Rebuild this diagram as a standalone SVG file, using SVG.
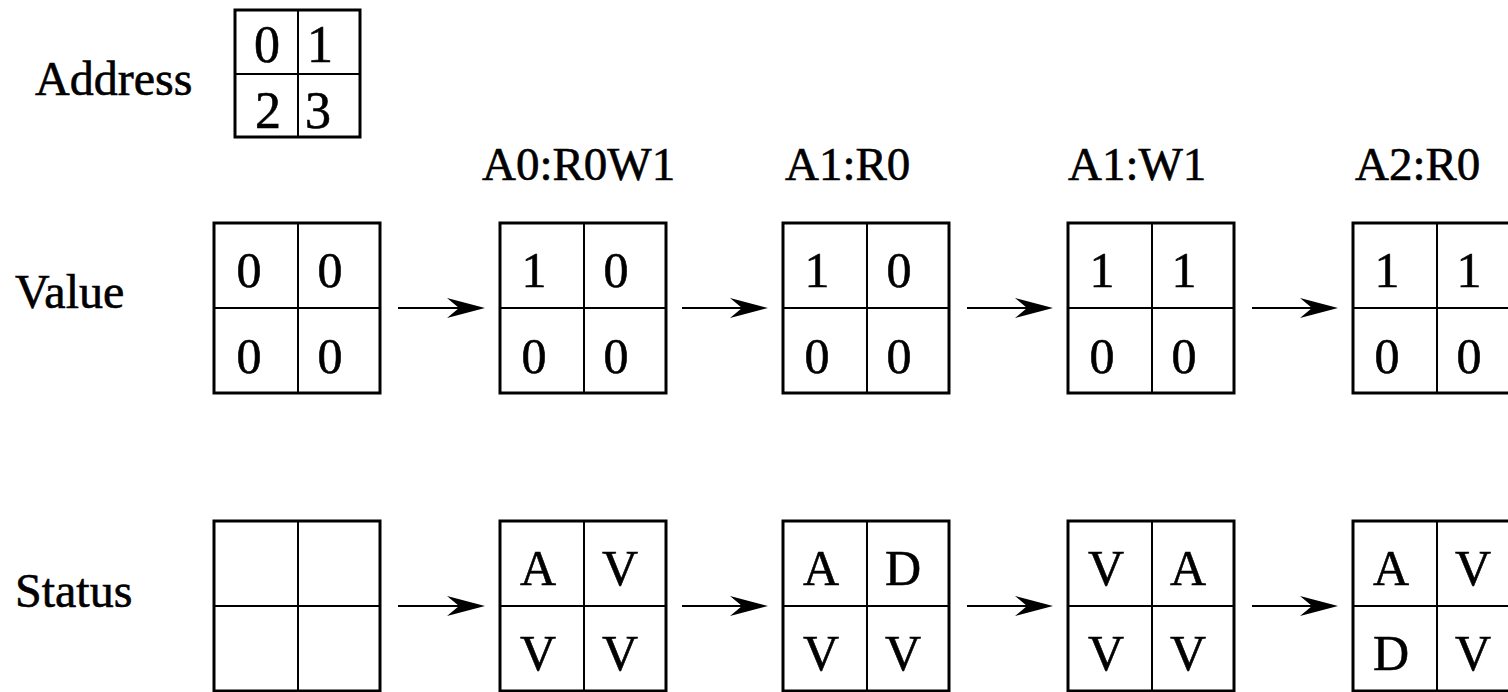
<svg xmlns="http://www.w3.org/2000/svg" xmlns:xlink="http://www.w3.org/1999/xlink" width="1508" height="692" viewBox="0 0 1508 692">
  <style>
    text { font-family: "Liberation Serif", "Times New Roman", serif; fill: #000; stroke: #000; stroke-width: 0.6; }
    .lbl { font-size: 48px; }
    .step { font-size: 47px; }
    .cell { font-size: 50px; text-anchor: middle; }
    .addr { font-size: 52px; text-anchor: middle; }
    .frame { fill: #fff; stroke: #000; stroke-width: 3; }
    .div { stroke: #000; stroke-width: 2; }
    .conn { stroke: #000; stroke-width: 2; fill: none; marker-end: url(#barb); }
  </style>
  <defs>
    <marker id="barb" viewBox="0 0 38 20" refX="33" refY="10" markerWidth="38" markerHeight="20" markerUnits="userSpaceOnUse" orient="auto">
      <path d="M38,10 L0,0 L12,10 L0,20 Z" fill="#000"/>
    </marker>
    <!-- 2x2 memory block, 166 x 170 -->
    <g id="grid">
      <rect class="frame" x="0" y="0" width="166" height="170"/>
      <line class="div" x1="84" y1="0" x2="84" y2="170"/>
      <line class="div" x1="0" y1="85" x2="166" y2="85"/>
    </g>
  </defs>

  <!-- address legend -->
  <g id="address">
    <text class="lbl" x="35" y="95">Address</text>
    <rect class="frame" x="235" y="10" width="125" height="127"/>
    <line class="div" stroke-width="3" x1="298" y1="10" x2="298" y2="137"/>
    <line class="div" stroke-width="3" x1="235" y1="74" x2="360" y2="74"/>
    <text class="addr" x="267" y="62">0</text>
    <text class="addr" x="320" y="62">1</text>
    <text class="addr" x="268" y="128">2</text>
    <text class="addr" x="318" y="128">3</text>
  </g>

  <!-- row labels -->
  <g id="row-labels">
    <text class="lbl" x="15" y="308">Value</text>
    <text class="lbl" x="15" y="607">Status</text>
  </g>

  <!-- access labels -->
  <g id="step-labels">
    <text class="step" x="482" y="180">A0:R0W1</text>
    <text class="step" x="785" y="180">A1:R0</text>
    <text class="step" x="1068" y="180">A1:W1</text>
    <text class="step" x="1355" y="180">A2:R0</text>
  </g>

  <!-- value blocks -->
  <g id="value-0" transform="translate(214,223)">
    <use xlink:href="#grid"/>
    <text class="cell" x="35" y="64">0</text><text class="cell" x="116" y="64">0</text>
    <text class="cell" x="35" y="150">0</text><text class="cell" x="116" y="150">0</text>
  </g>
  <g id="value-1" transform="translate(500,223)">
    <use xlink:href="#grid"/>
    <text class="cell" x="34" y="64">1</text><text class="cell" x="116" y="64">0</text>
    <text class="cell" x="34" y="150">0</text><text class="cell" x="116" y="150">0</text>
  </g>
  <g id="value-2" transform="translate(783,223)">
    <use xlink:href="#grid"/>
    <text class="cell" x="34" y="64">1</text><text class="cell" x="116" y="64">0</text>
    <text class="cell" x="34" y="150">0</text><text class="cell" x="116" y="150">0</text>
  </g>
  <g id="value-3" transform="translate(1068,223)">
    <use xlink:href="#grid"/>
    <text class="cell" x="34" y="64">1</text><text class="cell" x="116" y="64">1</text>
    <text class="cell" x="34" y="150">0</text><text class="cell" x="116" y="150">0</text>
  </g>
  <g id="value-4" transform="translate(1353,223)">
    <use xlink:href="#grid"/>
    <text class="cell" x="34" y="64">1</text><text class="cell" x="116" y="64">1</text>
    <text class="cell" x="34" y="150">0</text><text class="cell" x="116" y="150">0</text>
  </g>

  <!-- status blocks -->
  <g id="status-0" transform="translate(214,521)">
    <use xlink:href="#grid"/>
  </g>
  <g id="status-1" transform="translate(500,521)">
    <use xlink:href="#grid"/>
    <text class="cell" x="38" y="64">A</text><text class="cell" x="120" y="64">V</text>
    <text class="cell" x="38" y="149">V</text><text class="cell" x="120" y="149">V</text>
  </g>
  <g id="status-2" transform="translate(783,521)">
    <use xlink:href="#grid"/>
    <text class="cell" x="38" y="64">A</text><text class="cell" x="120" y="64">D</text>
    <text class="cell" x="38" y="149">V</text><text class="cell" x="120" y="149">V</text>
  </g>
  <g id="status-3" transform="translate(1068,521)">
    <use xlink:href="#grid"/>
    <text class="cell" x="38" y="64">V</text><text class="cell" x="120" y="64">A</text>
    <text class="cell" x="38" y="149">V</text><text class="cell" x="120" y="149">V</text>
  </g>
  <g id="status-4" transform="translate(1353,521)">
    <use xlink:href="#grid"/>
    <text class="cell" x="38" y="64">A</text><text class="cell" x="120" y="64">V</text>
    <text class="cell" x="38" y="149">D</text><text class="cell" x="120" y="149">V</text>
  </g>

  <!-- transitions -->
  <g id="connectors">
    <line class="conn" x1="398" y1="308" x2="480" y2="308"/>
    <line class="conn" x1="682" y1="308" x2="763" y2="308"/>
    <line class="conn" x1="967" y1="308" x2="1048" y2="308"/>
    <line class="conn" x1="1252" y1="308" x2="1333" y2="308"/>
    <line class="conn" x1="398" y1="606" x2="480" y2="606"/>
    <line class="conn" x1="682" y1="606" x2="763" y2="606"/>
    <line class="conn" x1="967" y1="606" x2="1048" y2="606"/>
    <line class="conn" x1="1252" y1="606" x2="1333" y2="606"/>
  </g>
</svg>
